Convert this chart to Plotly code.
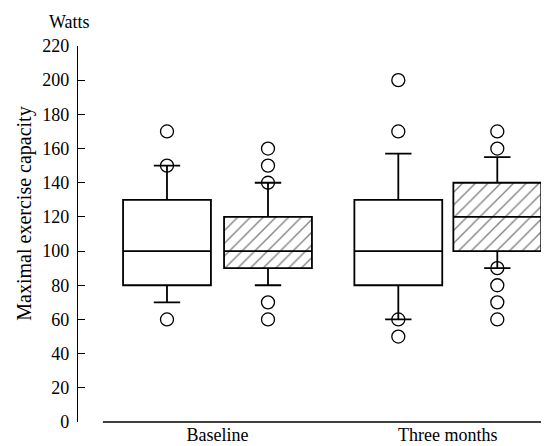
import plotly.graph_objects as go

# Data
groups = ["Baseline", "Three months"]
positions = [0.0, 1.0, 2.29, 3.27]
hatched = [False, True, False, True]
q1 = [80, 90, 80, 100]
median = [100, 100, 100, 120]
q3 = [130, 120, 130, 140]
lowerfence = [70, 80, 60, 90]
upperfence = [150, 140, 157, 155]
outliers = [
    [60, 150, 170],
    [60, 70, 140, 150, 160],
    [50, 60, 170, 200],
    [60, 70, 80, 90, 160, 170],
]
group_centers = [0.5, 2.78]
ytickvals = list(range(0, 221, 20))

FONT = "Liberation Serif"
BOXW = 0.87

fig = go.Figure()

# Hatched fills
for i, h in enumerate(hatched):
    if h:
        fig.add_trace(go.Bar(
            x=[positions[i]], y=[q3[i] - q1[i]], base=[q1[i]], width=[BOXW],
            marker=dict(color="white", line=dict(width=0),
                        pattern=dict(shape="/", fgcolor="black", bgcolor="white",
                                     size=9, solidity=0.15)),
            showlegend=False, hoverinfo="skip"))

# Boxes
for i in range(len(positions)):
    fig.add_trace(go.Box(
        x=[positions[i]], q1=[q1[i]], median=[median[i]], q3=[q3[i]],
        lowerfence=[lowerfence[i]], upperfence=[upperfence[i]],
        orientation="v", width=BOXW, whiskerwidth=0.3, boxpoints=False,
        fillcolor="rgba(0,0,0,0)", line=dict(color="black", width=1.8),
        showlegend=False))

# Outlier circles
for i in range(len(positions)):
    fig.add_trace(go.Scatter(
        x=[positions[i]] * len(outliers[i]), y=outliers[i], mode="markers",
        marker=dict(symbol="circle-open", size=13, color="black", line=dict(width=1.3)),
        showlegend=False))

fig.update_layout(
    width=549, height=446,
    margin=dict(l=70, r=0, t=38, b=32, autoexpand=False),
    paper_bgcolor="white", plot_bgcolor="white",
    font=dict(family=FONT, size=18, color="black"),
    bargap=0,
    xaxis=dict(range=[-0.881, 3.861], showgrid=False, zeroline=False, showline=False,
               tickvals=group_centers, ticktext=groups, ticks="", automargin=False,
               tickfont=dict(family=FONT, size=18)),
    yaxis=dict(range=[0, 220], showgrid=False, zeroline=False, showline=True,
               linecolor="black", linewidth=1.2, tickvals=ytickvals, automargin=False,
               ticks="inside", ticklen=7, tickcolor="black", tickwidth=1.2,
               ticklabelstandoff=4,
               tickfont=dict(family=FONT, size=18)),
    shapes=[dict(type="line", xref="paper", yref="paper", x0=0.052, x1=1, y0=0, y1=0,
                 line=dict(color="black", width=1.5))],
    annotations=[
        dict(text="Maximal exercise capacity", xref="paper", yref="paper",
             x=-0.112, y=0.555, textangle=-90, showarrow=False,
             xanchor="center", yanchor="middle", font=dict(family=FONT, size=20)),
        dict(text="Watts", xref="paper", yref="paper", x=-0.017, y=1.064,
             showarrow=False, xanchor="center", yanchor="middle",
             font=dict(family=FONT, size=18)),
    ],
)

fig.write_html("out.html")
